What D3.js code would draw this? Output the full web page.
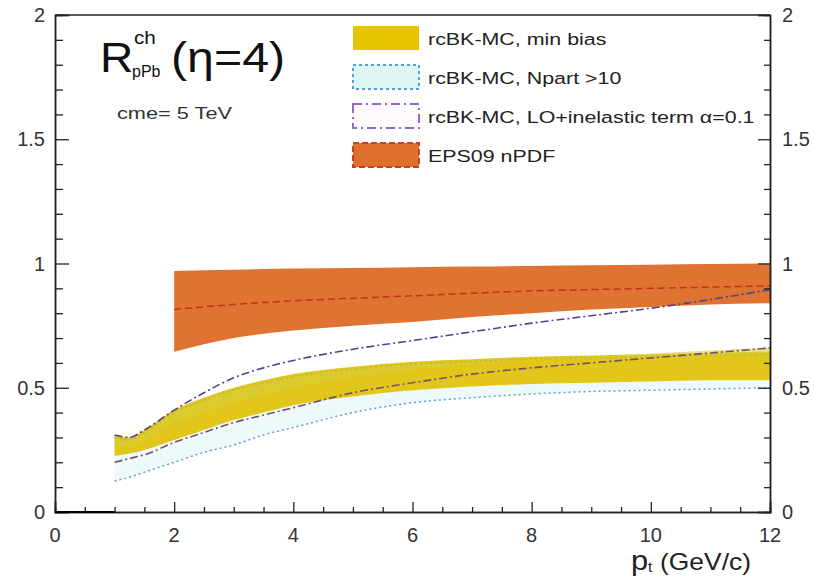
<!DOCTYPE html>
<html>
<head>
<meta charset="utf-8">
<script src="https://cdn.jsdelivr.net/npm/d3@7"></script>
<style>
  body { margin: 0; background: #fff; }
  svg text { font-family: "Liberation Sans", Arial, sans-serif; }
</style>
</head>
<body>
<div id="graph"></div>
<script>
// values (pt in GeV/c, R_pPb)
const ptGrid = [1, 1.25, 1.5, 2, 2.5, 3, 3.5, 4, 5, 6, 7, 8, 9, 10, 11, 12];
const minBiasLow  = [0.225, 0.235, 0.25, 0.29, 0.33, 0.37, 0.40, 0.43, 0.465, 0.49, 0.505, 0.515, 0.52, 0.525, 0.53, 0.53];
const minBiasHigh = [0.31, 0.30, 0.33, 0.41, 0.46, 0.50, 0.53, 0.555, 0.585, 0.605, 0.615, 0.625, 0.63, 0.635, 0.64, 0.645];
const npartLow    = [0.125, 0.14, 0.16, 0.20, 0.24, 0.27, 0.31, 0.34, 0.40, 0.44, 0.46, 0.475, 0.485, 0.49, 0.495, 0.50];
const npartHigh   = [0.30, 0.29, 0.32, 0.40, 0.45, 0.49, 0.52, 0.545, 0.575, 0.595, 0.605, 0.615, 0.62, 0.625, 0.63, 0.635];
const inelLow     = [0.20, 0.215, 0.23, 0.28, 0.32, 0.36, 0.39, 0.42, 0.48, 0.52, 0.555, 0.58, 0.60, 0.62, 0.64, 0.66];
const inelHigh    = [0.31, 0.30, 0.33, 0.41, 0.48, 0.54, 0.58, 0.61, 0.655, 0.69, 0.725, 0.76, 0.79, 0.82, 0.855, 0.895];

const epsPt   = [2, 3, 4, 5, 6, 7, 8, 9, 10, 11, 12];
const epsLow  = [0.645, 0.70, 0.73, 0.75, 0.765, 0.785, 0.80, 0.815, 0.825, 0.835, 0.84];
const epsHigh = [0.97, 0.975, 0.98, 0.982, 0.985, 0.988, 0.99, 0.993, 0.995, 0.998, 1.0];
const epsMid  = [0.815, 0.835, 0.85, 0.86, 0.87, 0.88, 0.89, 0.895, 0.90, 0.905, 0.91];

const xTicks = [0, 2, 4, 6, 8, 10, 12];
const yTicks = [0, 0.5, 1, 1.5, 2];

const legendLabels = ["rcBK-MC, min bias", "rcBK-MC, Npart >10",
                      "rcBK-MC, LO+inelastic term \u03b1=0.1", "EPS09 nPDF"];

const width = 814, height = 576;
const margin = {left: 55, top: 15, right: 44, bottom: 64};
const chartWidth = width - margin.left - margin.right;
const chartHeight = height - margin.top - margin.bottom;

const svg = d3.select("#graph").append("svg")
    .attr("width", width)
    .attr("height", height);

const xScale = d3.scaleLinear().domain([0, 12]).range([margin.left, margin.left + chartWidth]);
const yScale = d3.scaleLinear().domain([0, 2]).range([margin.top + chartHeight, margin.top]);

const band = (xs, lo, hi) => d3.area()
    .x((d, i) => xScale(xs[i]))
    .y0((d, i) => yScale(lo[i]))
    .y1((d, i) => yScale(hi[i]))
    .curve(d3.curveMonotoneX)(xs);
const line = (xs, ys) => d3.line()
    .x((d, i) => xScale(xs[i]))
    .y((d, i) => yScale(ys[i]))
    .curve(d3.curveMonotoneX)(xs);

// bands
svg.append("path").attr("d", band(epsPt, epsLow, epsHigh)).attr("fill", "#df7331");
svg.append("path").attr("d", band(ptGrid, npartLow, npartHigh)).attr("fill", "#eef9f9");
svg.append("path").attr("d", band(ptGrid, minBiasLow, minBiasHigh)).attr("fill", "#e3c61a");
// greenish upper half of the min bias band, where it overlaps the Npart band
svg.append("path").attr("d", band(ptGrid, inelLow.map((v, i) => (v + minBiasHigh[i]) / 2 + 0.01), npartHigh))
    .attr("fill", "#d6cf3a").attr("opacity", 0.6);

// band edges
[npartLow, npartHigh].forEach((ys, k) => {
  svg.append("path").attr("d", line(ptGrid, ys))
    .attr("fill", "none")
    .attr("stroke", k == 0 ? "#5b9fd6" : "#b7b84a")
    .attr("stroke-width", 1.5)
    .attr("stroke-dasharray", "2,3");
});
[inelLow, inelHigh].forEach((ys, k) => {
  svg.append("path").attr("d", line(ptGrid, ys))
    .attr("fill", "none")
    .attr("stroke", k == 0 ? "#7a4f6e" : "#5a3f86")
    .attr("stroke-width", 1.6)
    .attr("stroke-dasharray", "8,3,2,3");
});
svg.append("path").attr("d", line(epsPt, epsMid))
    .attr("fill", "none")
    .attr("stroke", "#c5321c")
    .attr("stroke-width", 1.5)
    .attr("stroke-dasharray", "7,4");

// frame and axes
const axisColor = "#222";
svg.append("line").attr("x1", xScale(0)).attr("x2", xScale(12))
    .attr("y1", yScale(2)).attr("y2", yScale(2)).attr("stroke", axisColor).attr("stroke-width", 1.5);

const yAxisL = d3.axisRight(yScale).tickValues(yTicks).tickSize(14).tickFormat("");
const yAxisR = d3.axisLeft(yScale).tickValues(yTicks).tickSize(12).tickFormat("");
const yMinor = d3.range(0, 2.01, 0.1).filter(v => Math.abs(v * 2 - Math.round(v * 2)) > 0.01);
const xMinor = d3.range(0, 12.01, 0.5).filter(v => v % 2 != 0);

const gl = svg.append("g").attr("transform", `translate(${xScale(0)},0)`).call(yAxisL);
gl.append("g").call(d3.axisRight(yScale).tickValues(yMinor).tickSize(8).tickFormat(""));
const gr = svg.append("g").attr("transform", `translate(${xScale(12)},0)`).call(yAxisR);
gr.append("g").call(d3.axisLeft(yScale).tickValues(yMinor).tickSize(6).tickFormat(""));
const gx = svg.append("g").attr("transform", `translate(0,${yScale(0)})`)
    .call(d3.axisTop(xScale).tickValues(xTicks).tickSize(10).tickFormat(""));
gx.append("g").call(d3.axisTop(xScale).tickValues(xMinor).tickSize(5).tickFormat(""));

svg.selectAll(".domain").attr("stroke", axisColor).attr("stroke-width", 1.5);
svg.selectAll(".tick line").attr("stroke", axisColor).attr("stroke-width", 1.3);
// the first stretch of the x axis is drawn heavier in the figure
svg.append("line").attr("x1", xScale(0)).attr("x2", xScale(1))
    .attr("y1", yScale(0)).attr("y2", yScale(0)).attr("stroke", "#000").attr("stroke-width", 2.2);

// tick labels
const fmt = d => d3.format("")(d);
svg.append("g").selectAll("text").data(yTicks).enter().append("text")
    .attr("x", xScale(0) - 10).attr("y", d => yScale(d) + 7)
    .attr("text-anchor", "end").attr("font-size", 20).attr("fill", "#333")
    .text(fmt);
svg.append("g").selectAll("text").data(yTicks).enter().append("text")
    .attr("x", xScale(12) + 12).attr("y", d => yScale(d) + 7)
    .attr("text-anchor", "start").attr("font-size", 20).attr("fill", "#333")
    .text(fmt);
svg.append("g").selectAll("text").data(xTicks).enter().append("text")
    .attr("x", d => xScale(d)).attr("y", yScale(0) + 30)
    .attr("text-anchor", "middle").attr("font-size", 20).attr("fill", "#333")
    .text(fmt);

// stretched text helper (the figure is widened horizontally)
const stretched = (x, y, str, size, sx, color) =>
  svg.append("text")
    .attr("transform", `translate(${x},${y}) scale(${sx},1)`)
    .attr("font-size", size).attr("fill", color || "#111")
    .text(str);

// x axis title
stretched(631, 570, "p", 28, 1.1, "#222");
stretched(648, 572, "t", 14, 1.1, "#222");
stretched(660, 570, "(GeV/c)", 23, 1.15, "#222");

// title
stretched(100, 72, "R", 42, 1.1);
stretched(134, 44, "ch", 18, 1.15);
stretched(132, 77, "pPb", 16, 1.0);
stretched(171, 72, "(\u03b7=4)", 42, 1.15);
stretched(117, 119, "cme= 5 TeV", 16, 1.36, "#333");

// legend
const legendY = d3.scaleLinear().domain([0, 3]).range([38, 155]);
const swatchStyles = [
  {fill: "#e8c400", stroke: "none", dash: null},
  {fill: "#def5f2", stroke: "#4d9fdf", dash: "3,3"},
  {fill: "#fdf9fd", stroke: "#9468c6", dash: "9,4,2,4"},
  {fill: "#e0702e", stroke: "#c9412a", dash: "6,3"}
];
legendLabels.forEach((label, i) => {
  const cy = legendY(i);
  const s = swatchStyles[i];
  svg.append("rect")
    .attr("x", 353).attr("y", cy - 12).attr("width", 66).attr("height", 24)
    .attr("fill", s.fill)
    .attr("stroke", s.stroke)
    .attr("stroke-width", 2)
    .attr("stroke-dasharray", s.dash);
  stretched(428, cy + 7, label, 17, 1.26, "#222");
});
</script>
</body>
</html>
